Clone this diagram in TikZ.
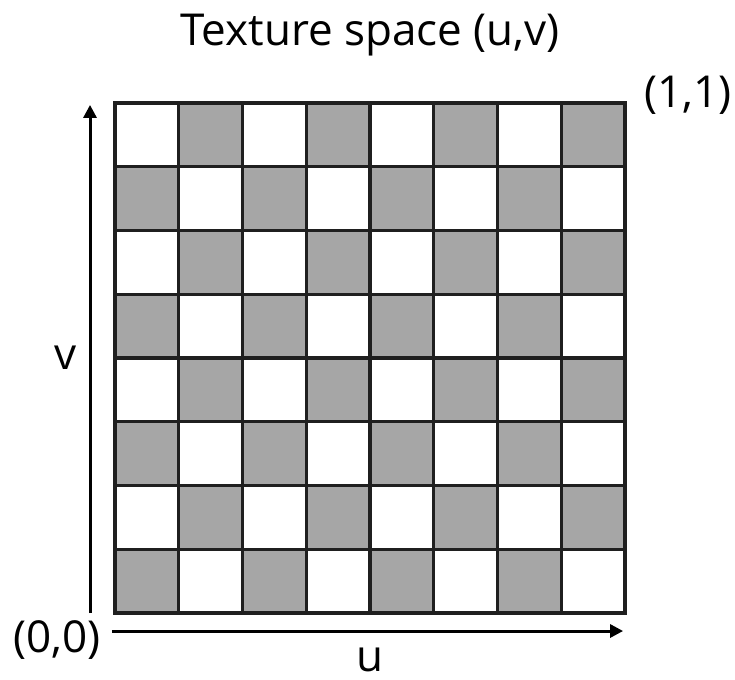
\documentclass[tikz,border=0pt]{standalone}
\usepackage{fontspec}
\setmainfont{Open Sans}
\usetikzlibrary{arrows.meta}
\begin{document}
\begin{tikzpicture}[x=63.75pt,y=63.75pt,
  gridline/.style={line width=3.2pt,black!88},
  axis/.style={line width=3pt,-{Triangle[length=13pt,width=13pt]}},
  lbl/.style={font=\fontsize{44}{48}\selectfont,inner sep=0pt}]
\useasboundingbox (-1.804,-1.035) rectangle (9.725,9.616);
% checkerboard cells
\foreach \i in {0,...,7}
  \foreach \j in {0,...,7}{
    \pgfmathtruncatemacro{\cellpar}{mod(\i+\j,2)}
    \ifnum\cellpar=0 \fill[black!35] (\i,\j) rectangle ++(1,1);\fi
  }
% grid lines
\foreach \k in {0,...,8}{
  \draw[gridline] (\k,-0.03) -- (\k,8.03);
  \draw[gridline] (-0.03,\k) -- (8.03,\k);
}
% axes
\coordinate (vstart) at (-0.392,0);
\coordinate (vend) at (-0.392,7.97);
\coordinate (ustart) at (-0.05,-0.282);
\coordinate (uend) at (7.97,-0.282);
\draw[axis] (vstart) -- (vend);
\draw[axis] (ustart) -- (uend);
\node[lbl] (vlabel) at (-0.784,4.0) {v};
\node[lbl] (ulabel) at (4.0,-0.737) {u};
\node[lbl] (origin) at (-0.91,-0.42) {(0,0)};
\node[lbl] (corner) at (8.99,8.125) {(1,1)};
\node[lbl] (title) at (4.0,9.067) {Texture space (u,v)};
\end{tikzpicture}
\end{document}
